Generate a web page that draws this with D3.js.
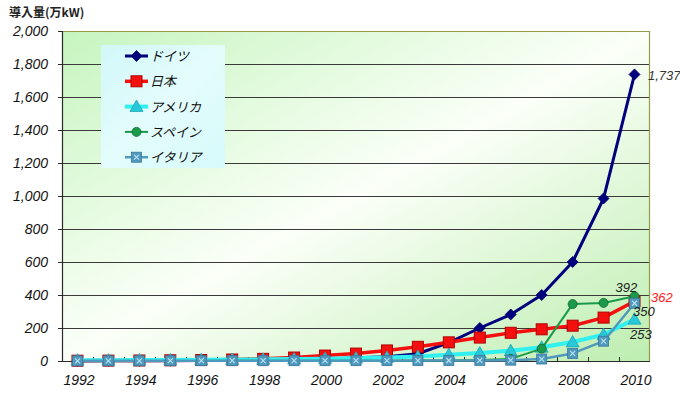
<!DOCTYPE html>
<html>
<head>
<meta charset="utf-8">
<script src="https://cdn.jsdelivr.net/npm/d3@7/dist/d3.min.js"></script>
<style>
  html, body { margin: 0; padding: 0; background: #fff; }
  svg { display: block; }
</style>
</head>
<body>
<svg id="chart" width="680" height="394"></svg>
<script>
// Cumulative installed PV capacity (万kW), 1992–2010
const years = d3.range(1992, 2011);
const yTicks = [0, 200, 400, 600, 800, 1000, 1200, 1400, 1600, 1800, 2000];
const xTickYears = [1992, 1994, 1996, 1998, 2000, 2002, 2004, 2006, 2008, 2010];

const germany = [0.6, 0.9, 1.2, 1.8, 2.8, 4.2, 5.4, 7, 11, 20, 26, 44, 111, 200, 282, 400, 600, 985, 1737];
const japan   = [1.9, 2.4, 3.1, 4.3, 6, 9.1, 13, 21, 33, 45, 64, 86, 113, 142, 171, 192, 214, 263, 362];
const usa     = [4.4, 5, 5.8, 6.7, 7.7, 8.8, 10, 11.7, 13.9, 16.8, 21, 27.5, 37.6, 48, 62, 83, 115, 160, 253];
const spain   = [0.4, 0.5, 0.6, 0.6, 0.7, 0.8, 0.9, 1, 1.2, 1.6, 2, 2.7, 2.4, 5.8, 13, 75, 345, 352, 392];
const italy   = [0.8, 1.2, 1.4, 1.6, 1.6, 1.7, 1.8, 1.8, 1.9, 2, 2.2, 2.6, 3.1, 3.7, 5, 12, 46, 120, 350];

const seriesNames = ["ドイツ", "日本", "アメリカ", "スペイン", "イタリア"];

const series = [
  { name: seriesNames[0], values: germany, color: "#00007e", stroke: "#000060", width: 3,   marker: "diamond" },
  { name: seriesNames[1], values: japan,   color: "#f51010", stroke: "#b00000", width: 3.5, marker: "square" },
  { name: seriesNames[2], values: usa,     color: "#30f0f0", stroke: "#1aa8b8", width: 4,   marker: "triangle" },
  { name: seriesNames[3], values: spain,   color: "#1a9a4a", stroke: "#0a6a2a", width: 2,   marker: "circle" },
  { name: seriesNames[4], values: italy,   color: "#5098bc", stroke: "#3a78a0", width: 2.5, marker: "xsquare" }
];

const svg = d3.select("#chart");
const plot = { left: 62, right: 650, top: 31, bottom: 361 };

const x = d3.scalePoint().domain(years).range([plot.left, plot.right]).padding(0.5);
const y = d3.scaleLinear().domain([0, 2000]).range([plot.bottom, plot.top]);
const step = x.step();

const defs = svg.append("defs");
const bg = defs.append("linearGradient").attr("id", "plotBg")
  .attr("x1", 0).attr("y1", 0).attr("x2", 1).attr("y2", 1);
bg.append("stop").attr("offset", "0").attr("stop-color", "#c6f5bf");
bg.append("stop").attr("offset", "0.5").attr("stop-color", "#fbfff8");
bg.append("stop").attr("offset", "1").attr("stop-color", "#bdeeb0");

const lg = defs.append("linearGradient").attr("id", "legendBg")
  .attr("x1", 0).attr("y1", 0).attr("x2", 1).attr("y2", 1);
lg.append("stop").attr("offset", "0").attr("stop-color", "#d2f8f8");
lg.append("stop").attr("offset", "0.5").attr("stop-color", "#e4fcfc");
lg.append("stop").attr("offset", "1").attr("stop-color", "#d6fafa");

// plot background
svg.append("rect")
  .attr("x", plot.left).attr("y", plot.top)
  .attr("width", plot.right - plot.left).attr("height", plot.bottom - plot.top)
  .attr("fill", "url(#plotBg)");

// horizontal gridlines
svg.append("g").selectAll("line")
  .data(yTicks.filter(v => v > 0 && v < 2000))
  .join("line")
  .attr("x1", plot.left).attr("x2", plot.right)
  .attr("y1", d => Math.round(y(d)) + 0.5).attr("y2", d => Math.round(y(d)) + 0.5)
  .attr("stroke", "#3a3a3a").attr("stroke-width", 1);

// top and right border
svg.append("path")
  .attr("d", `M${plot.left},${plot.top + 0.5}H${plot.right - 0.5}V${plot.bottom}`)
  .attr("fill", "none").attr("stroke", "#949c4c").attr("stroke-width", 1.2);

// y axis
const yAxis = d3.axisLeft(y).tickValues(yTicks).tickSize(4).tickPadding(10)
  .tickFormat(d3.format(","));
const gy = svg.append("g").attr("transform", `translate(${plot.left},0)`).call(yAxis);
gy.select(".domain").attr("stroke", "#2a2a2a").attr("stroke-width", 1.2);
gy.selectAll(".tick line").attr("stroke", "#2a2a2a");
gy.selectAll(".tick text")
  .attr("font-family", "'Liberation Sans', Arial, sans-serif")
  .attr("font-style", "italic").attr("font-size", 14).attr("fill", "#111");

// x axis: category boundary ticks pointing inward
svg.append("line")
  .attr("x1", plot.left).attr("x2", plot.right)
  .attr("y1", plot.bottom + 0.5).attr("y2", plot.bottom + 0.5)
  .attr("stroke", "#2a2a2a").attr("stroke-width", 1.2);
svg.append("g").selectAll("line")
  .data(years.slice(1))
  .join("line")
  .attr("x1", d => Math.round(x(d) - step / 2) + 0.5)
  .attr("x2", d => Math.round(x(d) - step / 2) + 0.5)
  .attr("y1", plot.bottom).attr("y2", plot.bottom - 4)
  .attr("stroke", "#2a2a2a");

const xAxis = d3.axisBottom(x).tickValues(xTickYears).tickSize(0).tickPadding(14)
  .tickFormat(d3.format("d"));
const gx = svg.append("g").attr("transform", `translate(1,${plot.bottom})`).call(xAxis);
gx.select(".domain").remove();
gx.selectAll(".tick text")
  .attr("font-family", "'Liberation Sans', Arial, sans-serif")
  .attr("font-style", "italic").attr("font-size", 14).attr("fill", "#111");

// markers
function drawMarker(g, type, cx, cy, s) {
  if (type === "diamond") {
    const r = 5.5;
    g.append("path").attr("d", `M${cx},${cy - r}L${cx + r},${cy}L${cx},${cy + r}L${cx - r},${cy}Z`)
      .attr("fill", s.color).attr("stroke", s.stroke).attr("stroke-width", 0.8);
  } else if (type === "square") {
    const r = 5.5;
    g.append("rect").attr("x", cx - r).attr("y", cy - r).attr("width", 2 * r).attr("height", 2 * r)
      .attr("fill", s.color).attr("stroke", s.stroke).attr("stroke-width", 1);
  } else if (type === "triangle") {
    const r = 6.5;
    g.append("path").attr("d", `M${cx},${cy - r}L${cx + r},${cy + r * 0.75}L${cx - r},${cy + r * 0.75}Z`)
      .attr("fill", "#28c8d8").attr("stroke", s.stroke).attr("stroke-width", 0.8);
  } else if (type === "circle") {
    g.append("circle").attr("cx", cx).attr("cy", cy).attr("r", 4.5)
      .attr("fill", s.color).attr("stroke", s.stroke).attr("stroke-width", 0.8);
  } else if (type === "xsquare") {
    const r = 5;
    g.append("rect").attr("x", cx - r).attr("y", cy - r).attr("width", 2 * r).attr("height", 2 * r)
      .attr("fill", s.color).attr("stroke", s.stroke).attr("stroke-width", 0.8);
    g.append("path").attr("d", `M${cx - 2.5},${cy - 2.5}L${cx + 2.5},${cy + 2.5}M${cx + 2.5},${cy - 2.5}L${cx - 2.5},${cy + 2.5}`)
      .attr("stroke", "#b8e4f4").attr("stroke-width", 1.1);
  }
}

const line = d3.line().x((d, i) => x(years[i])).y(d => y(d));

series.forEach(s => {
  const g = svg.append("g");
  g.append("path").datum(s.values).attr("d", line)
    .attr("fill", "none").attr("stroke", s.color).attr("stroke-width", s.width)
    .attr("stroke-linejoin", "round");
  s.values.forEach((v, i) => drawMarker(g, s.marker, x(years[i]), y(v), s));
});

// end-of-series value labels
const last = arr => arr[arr.length - 1];
const endX = x(years[years.length - 1]);
const labelFont = "'Liberation Sans', Arial, sans-serif";
const endLabels = [
  { v: last(germany), dx: 13.5, dy: 6,  color: "#333" },
  { v: last(spain),   dx: -19,  dy: -4, color: "#222" },
  { v: last(japan),   dx: 16.5, dy: 1,  color: "#ff2020" },
  { v: last(italy),   dx: -1.5, dy: 13, color: "#222" },
  { v: last(usa),     dx: -4.5, dy: 20, color: "#222" }
];
endLabels.forEach(l => {
  svg.append("text")
    .attr("x", endX + l.dx).attr("y", y(l.v) + l.dy)
    .attr("font-family", labelFont).attr("font-style", "italic").attr("font-size", 13)
    .attr("fill", l.color).text(d3.format(",")(l.v));
});

// legend
const legend = svg.append("g");
legend.append("rect").attr("x", 101).attr("y", 45).attr("width", 124).attr("height", 123)
  .attr("fill", "url(#legendBg)");
series.forEach((s, i) => {
  const ly = 56 + i * 25.3;
  legend.append("line").attr("x1", 125).attr("x2", 148).attr("y1", ly).attr("y2", ly)
    .attr("stroke", s.color).attr("stroke-width", s.width);
  drawMarker(legend, s.marker, 136.5, ly, s);
  legend.append("text").attr("x", 150).attr("y", ly + 5)
    .attr("font-family", "'Noto Sans CJK JP', sans-serif").attr("font-style", "italic")
    .attr("font-size", 13).attr("fill", "#111").text(s.name);
});

// unit title
svg.append("text").attr("x", 9).attr("y", 17)
  .attr("font-family", "'Noto Sans CJK JP', sans-serif").attr("font-weight", "bold")
  .attr("font-size", 12).attr("fill", "#222").text("導入量(万kW)");
</script>
</body>
</html>
